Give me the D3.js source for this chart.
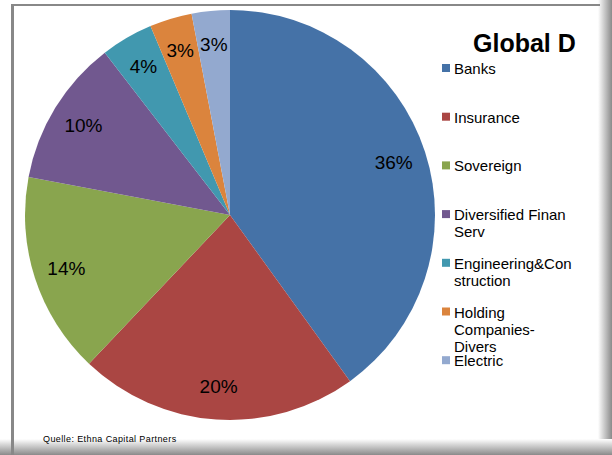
<!DOCTYPE html>
<html>
<head>
<meta charset="utf-8">
<script src="https://cdn.jsdelivr.net/npm/d3@7"></script>
<style>
  body { margin: 0; background: #fff; }
  text { font-family: "Liberation Sans", Arial, sans-serif; }
</style>
</head>
<body>
<script>
const categories = ["Banks", "Insurance", "Sovereign", "Diversified Finan Serv",
    "Engineering&Construction", "Holding Companies-Divers", "Electric"];
// share of the whole portfolio (labels), pie normalises over the shown sectors
const values = [36.0, 19.8, 14.3, 10.4, 3.7, 3.0, 2.7];
const colors = ["#4572A7", "#AA4643", "#89A54E", "#71588F", "#4198AF", "#DB843D", "#93A9CF"];
const legendLines = [["Banks"], ["Insurance"], ["Sovereign"], ["Diversified Finan", "Serv"],
    ["Engineering&Con", "struction"], ["Holding", "Companies-", "Divers"], ["Electric"]];

const width = 612, height = 455;
const cx = 230, cy = 215, radius = 205;

const svg = d3.select("body")
    .append("svg")
    .attr("width", width)
    .attr("height", height);

const defs = svg.append("defs");
const gradR = defs.append("linearGradient").attr("id", "shadeR")
    .attr("x1", 0).attr("x2", 1).attr("y1", 0).attr("y2", 0);
gradR.append("stop").attr("offset", "0%").attr("stop-color", "#fff");
gradR.append("stop").attr("offset", "100%").attr("stop-color", "#8a8a8a");
const gradB = defs.append("linearGradient").attr("id", "shadeB")
    .attr("x1", 0).attr("x2", 0).attr("y1", 0).attr("y2", 1);
gradB.append("stop").attr("offset", "0%").attr("stop-color", "#fff");
gradB.append("stop").attr("offset", "100%").attr("stop-color", "#8a8a8a");

// frame
svg.append("rect").attr("x", 598).attr("y", 0).attr("width", 14).attr("height", height)
    .attr("fill", "url(#shadeR)");
svg.append("rect").attr("x", 0).attr("y", 439).attr("width", width).attr("height", 16)
    .attr("fill", "url(#shadeB)");
svg.append("rect").attr("x", 11).attr("y", 4).attr("width", 589).attr("height", 2)
    .attr("fill", "#888");
svg.append("rect").attr("x", 11).attr("y", 4).attr("width", 3).attr("height", height - 4)
    .attr("fill", "#888");

const pie = d3.pie().sort(null).value(d => d);
const arc = d3.arc().innerRadius(0).outerRadius(radius);
const labelArc = d3.arc().innerRadius(172).outerRadius(172);

const g = svg.append("g").attr("transform", `translate(${cx},${cy})`);
const arcs = pie(values);

g.selectAll("path")
    .data(arcs)
    .enter().append("path")
    .attr("d", arc)
    .attr("fill", (d, i) => colors[i]);

g.selectAll("text.pct")
    .data(arcs)
    .enter().append("text")
    .attr("class", "pct")
    .attr("transform", d => `translate(${labelArc.centroid(d)})`)
    .attr("text-anchor", "middle")
    .attr("dy", "0.36em")
    .style("font-size", "19px")
    .text(d => Math.round(d.data) + "%");

// title
svg.append("text")
    .attr("x", 473).attr("y", 52)
    .style("font-size", "25px")
    .style("font-weight", "bold")
    .text("Global D");

// legend
const legend = svg.append("g").selectAll("g")
    .data(categories)
    .enter().append("g")
    .attr("transform", (d, i) => `translate(442,${74 + i * 48.7})`);

legend.append("rect")
    .attr("x", 0).attr("y", -10)
    .attr("width", 8).attr("height", 8)
    .attr("fill", (d, i) => colors[i]);

legend.append("text")
    .attr("x", 12)
    .style("font-size", "15px")
    .selectAll("tspan")
    .data((d, i) => legendLines[i])
    .enter().append("tspan")
    .attr("x", 12)
    .attr("dy", (d, j) => j === 0 ? 0 : 17)
    .text(d => d);

// source
svg.append("text")
    .attr("x", 43).attr("y", 442)
    .style("font-size", "9px")
    .style("letter-spacing", "0.4px")
    .text("Quelle: Ethna Capital Partners");
</script>
</body>
</html>
